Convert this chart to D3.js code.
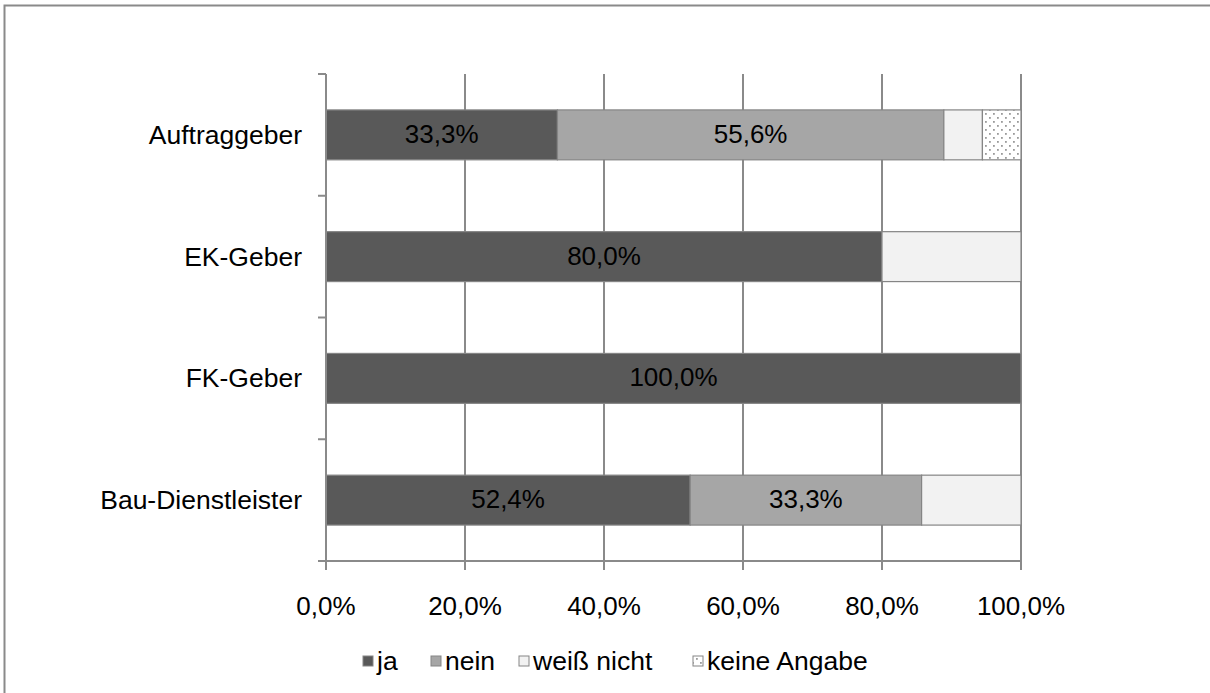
<!DOCTYPE html>
<html>
<head>
<meta charset="utf-8">
<script src="https://cdn.jsdelivr.net/npm/d3@7"></script>
<style>
  html, body { margin: 0; padding: 0; background: #fff; }
  svg { display: block; }
  text { font-family: "Liberation Sans", Arial, sans-serif; }
</style>
</head>
<body>
<svg id="chart" width="1210" height="693"></svg>
<script>
// ---- data ----
const categories = ["Auftraggeber", "EK-Geber", "FK-Geber", "Bau-Dienstleister"];
const seriesNames = ["ja", "nein", "weiß nicht", "keine Angabe"];
const ja          = [33.3, 80.0, 100.0, 52.4];
const nein        = [55.6, 0, 0, 33.3];
const weissNicht  = [5.55, 20.0, 0, 14.3];
const keineAngabe = [5.55, 0, 0, 0];
const xTicks = [0, 20, 40, 60, 80, 100];
const xTickLabels = ["0,0%", "20,0%", "40,0%", "60,0%", "80,0%", "100,0%"];

(function () {
const seriesValues = [ja, nein, weissNicht, keineAngabe];
const fills = ["#595959", "#a6a6a6", "#f2f2f2", "url(#dots)"];
const showLabel = [true, true, false, false];

const svg = d3.select("#chart");

// pattern
const defs = svg.append("defs");
const pat = defs.append("pattern").attr("id", "dots").attr("patternUnits", "userSpaceOnUse")
  .attr("width", 8).attr("height", 8);
pat.append("rect").attr("width", 8).attr("height", 8).attr("fill", "#fff");
pat.append("rect").attr("x", 1).attr("y", 1).attr("width", 1.8).attr("height", 1.8).attr("fill", "#9a9a9a");
pat.append("rect").attr("x", 5).attr("y", 5).attr("width", 1.8).attr("height", 1.8).attr("fill", "#9a9a9a");

// outer border (only top/left visible)
svg.append("rect").attr("x", 4.5).attr("y", 5.5).attr("width", 1400).attr("height", 900)
  .attr("fill", "none").attr("stroke", "#8a8a8a").attr("stroke-width", 2);

const pLeft = 326, pRight = 1021, pTop = 74, pBottom = 561;
const x = d3.scaleLinear().domain([0, 100]).range([pLeft, pRight]);
const y = d3.scaleBand().domain(categories).range([pTop, pBottom]).padding(0);
const barH = y.bandwidth() * 0.41;

// gridlines
svg.append("g").selectAll("line").data(xTicks.slice(1)).join("line")
  .attr("x1", d => x(d)).attr("x2", d => x(d))
  .attr("y1", pTop).attr("y2", pBottom + 9)
  .attr("stroke", "#8a8a8a").attr("stroke-width", 2);

// stacked data
const rows = categories.map((c, i) => {
  let acc = 0;
  return seriesValues.map((s, k) => {
    const seg = { cat: c, k, v: s[i], x0: acc, x1: acc + s[i] };
    acc += s[i];
    return seg;
  }).filter(d => d.v > 0);
}).flat();

svg.append("g").selectAll("rect").data(rows).join("rect")
  .attr("x", d => x(d.x0)).attr("width", d => x(Math.min(100, d.x1)) - x(d.x0))
  .attr("y", d => y(d.cat) + (y.bandwidth() - barH) / 2).attr("height", barH)
  .attr("fill", d => fills[d.k]).attr("stroke", "#858585").attr("stroke-width", 1.2);

// value labels
svg.append("g").selectAll("text").data(rows.filter(d => showLabel[d.k])).join("text")
  .attr("x", d => (x(d.x0) + x(d.x1)) / 2)
  .attr("y", d => y(d.cat) + y.bandwidth() / 2 - 1)
  .attr("text-anchor", "middle").attr("dominant-baseline", "central")
  .attr("font-size", 26).attr("fill", "#000")
  .text(d => d.v.toFixed(1).replace(".", ",") + "%");

// y axis
const yTickPos = categories.map(c => y(c)).concat([pBottom]);
svg.append("line").attr("x1", pLeft).attr("x2", pLeft).attr("y1", pTop).attr("y2", pBottom + 9)
  .attr("stroke", "#8a8a8a").attr("stroke-width", 2);
svg.append("g").selectAll("line").data(yTickPos).join("line")
  .attr("x1", pLeft - 8).attr("x2", pLeft).attr("y1", d => d).attr("y2", d => d)
  .attr("stroke", "#8a8a8a").attr("stroke-width", 2);
svg.append("g").selectAll("text").data(categories).join("text")
  .attr("x", 302).attr("y", d => y(d) + y.bandwidth() / 2)
  .attr("text-anchor", "end").attr("dominant-baseline", "central")
  .attr("font-size", 26.5).attr("fill", "#000").text(d => d);

// x axis
svg.append("line").attr("x1", pLeft - 8).attr("x2", pRight).attr("y1", pBottom).attr("y2", pBottom)
  .attr("stroke", "#8a8a8a").attr("stroke-width", 2);
svg.append("g").selectAll("text").data(xTicks).join("text")
  .attr("x", d => x(d)).attr("y", 606)
  .attr("text-anchor", "middle").attr("dominant-baseline", "central")
  .attr("font-size", 26).attr("fill", "#000").text((d, i) => xTickLabels[i]);

// legend
const legendX = [377, 445, 533, 707];
const lg = svg.append("g").selectAll("g").data(seriesNames).join("g")
  .attr("transform", (d, i) => `translate(${legendX[i]},661)`);
lg.append("rect").attr("x", -14).attr("y", -5).attr("width", 10).attr("height", 10)
  .attr("fill", (d, i) => fills[i]).attr("stroke", "#858585").attr("stroke-width", 1);
lg.append("text").attr("x", 0).attr("y", 0).attr("dominant-baseline", "central")
  .attr("font-size", 26.5).attr("fill", "#000").text(d => d);
})();
</script>
</body>
</html>
